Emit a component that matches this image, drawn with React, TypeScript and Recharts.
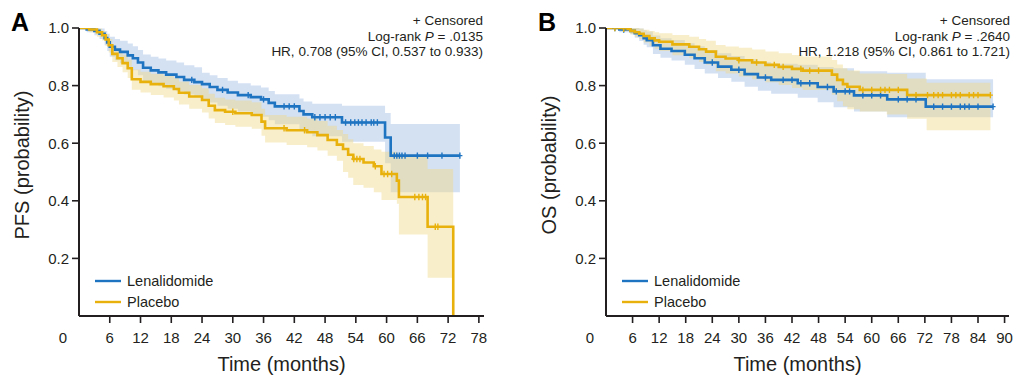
import React from 'react';
import { ComposedChart, Line, Area, Scatter, XAxis, YAxis, Legend, Label } from 'recharts';

const FONT = '"Liberation Sans", Arial, Helvetica, sans-serif';
const INK = '#231f20';
const BLUE = '#1f74c2';
const GOLD = '#e8b10c';
const BLUE_BAND = '#a9c3e8';
const GOLD_BAND = '#f0d98a';

// ---------- Panel A: PFS ----------
const pfsLenT = [0, 1.5, 3, 4, 5, 5.5, 6, 7, 8, 9.5, 10.5, 11.5, 12.5, 14, 15.5, 17, 19, 20.5, 22.5, 24, 25.5, 27, 29, 31, 33.5, 35.5, 37, 38.2, 43, 43.8, 45.5, 51.3, 59.7, 60.8, 74.3];
const pfsLenS = [1, 0.995, 0.99, 0.98, 0.965, 0.95, 0.935, 0.925, 0.917, 0.905, 0.895, 0.88, 0.862, 0.853, 0.846, 0.838, 0.83, 0.82, 0.812, 0.805, 0.795, 0.785, 0.776, 0.767, 0.76, 0.752, 0.74, 0.728, 0.712, 0.7, 0.69, 0.672, 0.62, 0.557, 0.557];
const pfsLenHi = [1, 1, 1, 0.998, 0.99, 0.98, 0.97, 0.962, 0.956, 0.946, 0.937, 0.924, 0.908, 0.9, 0.894, 0.887, 0.88, 0.871, 0.864, 0.845, 0.836, 0.826, 0.817, 0.808, 0.8, 0.793, 0.781, 0.77, 0.755, 0.745, 0.737, 0.73, 0.705, 0.667, 0.667];
const pfsLenLo = [1, 0.985, 0.975, 0.962, 0.94, 0.92, 0.9, 0.888, 0.878, 0.864, 0.853, 0.836, 0.816, 0.806, 0.798, 0.789, 0.78, 0.769, 0.76, 0.752, 0.741, 0.73, 0.72, 0.71, 0.702, 0.692, 0.68, 0.666, 0.648, 0.635, 0.624, 0.605, 0.53, 0.43, 0.43];
const pfsLenCensor = [22, 28, 33, 36, 40, 41, 42, 46, 47, 48, 49, 50, 52, 53, 53.8, 54.5, 55.2, 56, 57, 57.5, 58.2, 61.5, 62, 62.5, 63, 63.6, 66, 68, 70.8, 74.3];

const pfsPlaT = [0, 2, 3.5, 4.5, 5.2, 5.8, 6.5, 7.5, 8.5, 9.5, 10.3, 12, 14, 16.5, 18.5, 19.5, 21.5, 24, 25.3, 26.5, 28.5, 30.5, 33.7, 35.6, 36.3, 40.5, 44.5, 46.5, 48.5, 50.3, 51.5, 52.5, 53.5, 55.5, 57.5, 59, 62, 62.4, 68, 73];
const pfsPlaS = [1, 0.995, 0.985, 0.975, 0.96, 0.94, 0.91, 0.895, 0.878, 0.86, 0.822, 0.813, 0.805, 0.798, 0.788, 0.775, 0.762, 0.75, 0.73, 0.715, 0.709, 0.704, 0.698, 0.675, 0.652, 0.645, 0.638, 0.628, 0.611, 0.595, 0.58, 0.56, 0.545, 0.533, 0.52, 0.493, 0.47, 0.413, 0.31, 0];
const pfsPlaHi = [1, 1, 0.998, 0.99, 0.978, 0.962, 0.935, 0.922, 0.907, 0.891, 0.856, 0.848, 0.841, 0.835, 0.826, 0.814, 0.802, 0.791, 0.772, 0.758, 0.752, 0.748, 0.742, 0.72, 0.698, 0.692, 0.686, 0.677, 0.661, 0.646, 0.632, 0.614, 0.6, 0.59, 0.578, 0.57, 0.56, 0.56, 0.51, 0.51];
const pfsPlaLo = [1, 0.985, 0.97, 0.957, 0.938, 0.915, 0.882, 0.865, 0.846, 0.826, 0.786, 0.776, 0.767, 0.759, 0.748, 0.734, 0.72, 0.707, 0.686, 0.67, 0.663, 0.657, 0.65, 0.626, 0.602, 0.594, 0.586, 0.575, 0.556, 0.539, 0.5, 0.48, 0.455, 0.445, 0.43, 0.403, 0.39, 0.283, 0.133, 0.133];
const pfsPlaCensor = [30, 40, 44, 53.6, 54.2, 54.8, 57.8, 59.5, 60.2, 61, 65.5, 66.3, 67, 67.6, 69.5, 70];

// ---------- Panel B: OS ----------
const osLenT = [0, 3, 5.5, 6.5, 7.5, 8.5, 9.2, 10.6, 12.3, 14.8, 17.8, 20, 22.3, 25.3, 28.3, 31.3, 34.3, 37.3, 43.3, 47.8, 51.4, 56, 63.5, 72.2, 87.4];
const osLenS = [1, 0.995, 0.99, 0.982, 0.975, 0.965, 0.958, 0.94, 0.928, 0.92, 0.907, 0.895, 0.88, 0.866, 0.855, 0.84, 0.828, 0.82, 0.808, 0.795, 0.78, 0.766, 0.752, 0.727, 0.727];
const osLenHi = [1, 1, 1, 1, 0.998, 0.992, 0.988, 0.974, 0.964, 0.958, 0.947, 0.937, 0.924, 0.912, 0.903, 0.892, 0.882, 0.876, 0.872, 0.865, 0.86, 0.85, 0.845, 0.822, 0.822];
const osLenLo = [1, 0.985, 0.978, 0.966, 0.955, 0.942, 0.933, 0.91, 0.897, 0.887, 0.872, 0.858, 0.842, 0.826, 0.813, 0.796, 0.782, 0.772, 0.758, 0.742, 0.725, 0.71, 0.69, 0.69, 0.69];
const osLenCensor = [2, 4, 24, 30, 36, 40, 42, 44, 46, 50, 52, 54, 55, 58, 60, 62, 66, 68, 70, 74, 76, 78, 80, 81, 82, 84, 87.4];

const osPlaT = [0, 4, 5.5, 6.5, 7.5, 8.5, 9.8, 11, 12, 15, 18.8, 21, 22.6, 24.8, 27, 30, 33, 36, 39, 42, 44.4, 51, 52.2, 53.5, 54.5, 57.3, 63.4, 68, 72.4, 86.8];
const osPlaS = [1, 0.997, 0.99, 0.985, 0.98, 0.972, 0.964, 0.957, 0.952, 0.943, 0.935, 0.926, 0.918, 0.9, 0.894, 0.888, 0.88, 0.872, 0.865, 0.858, 0.852, 0.838, 0.82, 0.805, 0.796, 0.785, 0.785, 0.767, 0.767, 0.767];
const osPlaHi = [1, 1, 1, 1, 0.998, 0.994, 0.99, 0.985, 0.982, 0.976, 0.97, 0.962, 0.956, 0.941, 0.936, 0.931, 0.925, 0.918, 0.912, 0.906, 0.901, 0.889, 0.873, 0.86, 0.852, 0.842, 0.84, 0.825, 0.81, 0.81];
const osPlaLo = [1, 0.99, 0.978, 0.97, 0.962, 0.95, 0.938, 0.928, 0.92, 0.905, 0.895, 0.882, 0.872, 0.85, 0.842, 0.832, 0.822, 0.812, 0.802, 0.792, 0.785, 0.768, 0.746, 0.728, 0.718, 0.71, 0.7, 0.685, 0.645, 0.645];
const osPlaCensor = [2, 4, 30, 34, 38, 40, 44, 46, 48, 58, 60, 62, 63, 64, 66, 70, 72.6, 74, 75, 76, 78, 79, 80, 82, 83, 84, 86.8];

// ---------- ticks & labels ----------
const pfsXTicks = [0, 6, 12, 18, 24, 30, 36, 42, 48, 54, 60, 66, 72, 78];
const osXTicks = [0, 6, 12, 18, 24, 30, 36, 42, 48, 54, 60, 66, 72, 78, 84, 90];
const yTicks = [0.2, 0.4, 0.6, 0.8, 1.0];
const seriesNames = ['Lenalidomide', 'Placebo'];
const pfsNotes = ['+ Censored', '.0135', 'HR, 0.708 (95% CI, 0.537 to 0.933)'];
const osNotes = ['+ Censored', '.2640', 'HR, 1.218 (95% CI, 0.861 to 1.721)'];

type Pt = { t: number; s: number; band: [number, number] };

function curve(ts: number[], ss: number[], lo: number[], hi: number[]): Pt[] {
  return ts.map((t, i) => ({ t, s: ss[i], band: [lo[i], hi[i]] as [number, number] }));
}

function censorPts(times: number[], ts: number[], ss: number[]) {
  return times.map((c) => {
    let k = 0;
    for (let i = 0; i < ts.length; i++) if (ts[i] <= c) k = i;
    return { t: c, s: ss[k] };
  });
}

const makeCross = (color: string) => (p: any) => {
  const { cx, cy } = p;
  if (cx == null || cy == null) return <g />;
  return (
    <path d={`M${cx - 2.5},${cy}h5M${cx},${cy - 3.2}v6.4`} stroke={color} strokeWidth={1.4} fill="none" />
  );
};

const XTick = (props: any) => {
  const { x, y, payload } = props;
  const v = payload.value;
  return (
    <g>
      {v !== 0 && <line x1={x} x2={x} y1={y - 16} y2={y - 9} stroke={INK} strokeWidth={1.6} />}
      <text x={v === 0 ? x - 16 : x} y={y} dy="0.71em" textAnchor="middle" fontSize={15} fill={INK} fontFamily={FONT}>
        {v}
      </text>
    </g>
  );
};

const LegendContent = (props: any) => {
  const payload = (props.payload || []).filter((e: any) => seriesNames.includes(e.value));
  return (
    <div style={{ fontFamily: FONT, fontSize: 14.5, color: INK }}>
      {payload.map((e: any) => (
        <div key={e.value} style={{ display: 'flex', alignItems: 'center', height: 21 }}>
          <svg width={26} height={4} style={{ marginRight: 6 }}>
            <line x1={0} x2={26} y1={2} y2={2} stroke={e.color} strokeWidth={2.4} />
          </svg>
          <span>{e.value}</span>
        </div>
      ))}
    </div>
  );
};

type PanelProps = {
  width: number;
  marginLeft: number;
  marginRight: number;
  xMax: number;
  xTicks: number[];
  letter: string;
  yLabel: string;
  notes: string[];
  notesRight: number;
  xLabelShift: number;
  len: Pt[];
  pla: Pt[];
  lenC: { t: number; s: number }[];
  plaC: { t: number; s: number }[];
};

function Panel(p: PanelProps) {
  const H = 377;
  return (
    <div style={{ position: 'relative', width: p.width, height: H }}>
      <ComposedChart
        width={p.width}
        height={H}
        margin={{ top: 28, right: p.marginRight, bottom: 0, left: p.marginLeft }}
      >
        <XAxis
          type="number"
          dataKey="t"
          domain={[0, p.xMax]}
          ticks={p.xTicks}
          allowDataOverflow
          height={61}
          axisLine={{ stroke: INK, strokeWidth: 2 }}
          tickLine={false}
          tickSize={6}
          tickMargin={10}
          tick={<XTick />}
          interval={0}
        >
          <Label
            content={(lp: any) => {
              const vb = lp.viewBox || { x: p.marginLeft + 79, y: 316, width: 405, height: 61 };
              return (
                <text
                  x={vb.x + vb.width / 2 + p.xLabelShift}
                  y={vb.y + 55}
                  textAnchor="middle"
                  fontSize={20}
                  fill={INK}
                  fontFamily={FONT}
                >
                  Time (months)
                </text>
              );
            }}
          />
        </XAxis>
        <YAxis
          type="number"
          domain={[0, 1]}
          ticks={yTicks}
          width={79}
          allowDataOverflow
          axisLine={{ stroke: INK, strokeWidth: 2 }}
          tickLine={{ stroke: INK, strokeWidth: 1.6 }}
          tickSize={7}
          tickMargin={3}
          tickFormatter={(v: number) => v.toFixed(1)}
          tick={{ fontSize: 15, fill: INK, fontFamily: FONT }}
        >
          <Label
            content={(lp: any) => {
              const vb = lp.viewBox || { x: p.marginLeft, y: 28, width: 79, height: 288 };
              const cx = vb.x + 22;
              const cy = vb.y + vb.height / 2 - 7;
              return (
                <text
                  x={cx}
                  y={cy}
                  transform={`rotate(-90 ${cx} ${cy})`}
                  textAnchor="middle"
                  dominantBaseline="central"
                  fontSize={20}
                  fill={INK}
                  fontFamily={FONT}
                >
                  {p.yLabel}
                </text>
              );
            }}
          />
        </YAxis>
        <Area
          data={p.len}
          dataKey="band"
          type="stepAfter"
          stroke="none"
          fill={BLUE_BAND}
          fillOpacity={0.5}
          isAnimationActive={false}
          legendType="none"
          activeDot={false}
        />
        <Area
          data={p.pla}
          dataKey="band"
          type="stepAfter"
          stroke="none"
          fill={GOLD_BAND}
          fillOpacity={0.45}
          isAnimationActive={false}
          legendType="none"
          activeDot={false}
        />
        <Line
          data={p.len}
          dataKey="s"
          name={seriesNames[0]}
          type="stepAfter"
          stroke={BLUE}
          strokeWidth={2.6}
          dot={false}
          activeDot={false}
          isAnimationActive={false}
        />
        <Line
          data={p.pla}
          dataKey="s"
          name={seriesNames[1]}
          type="stepAfter"
          stroke={GOLD}
          strokeWidth={2.6}
          dot={false}
          activeDot={false}
          isAnimationActive={false}
        />
        <Scatter data={p.lenC} dataKey="s" shape={makeCross(BLUE)} isAnimationActive={false} legendType="none" />
        <Scatter data={p.plaC} dataKey="s" shape={makeCross(GOLD)} isAnimationActive={false} legendType="none" />
        <Legend
          layout="vertical"
          align="center"
          verticalAlign="middle"
          content={<LegendContent />}
          wrapperStyle={{ position: 'absolute', left: p.marginLeft + 95, top: 270, width: 160, height: 42 }}
        />
      </ComposedChart>
      <div
        style={{
          position: 'absolute',
          left: p.marginLeft + 11,
          top: 7,
          fontFamily: FONT,
          fontWeight: 'bold',
          fontSize: 25,
          color: '#000',
          lineHeight: '30px',
        }}
      >
        {p.letter}
      </div>
      <div
        style={{
          position: 'absolute',
          right: p.notesRight,
          top: 13,
          textAlign: 'right',
          fontFamily: FONT,
          fontSize: 13.5,
          lineHeight: '15.5px',
          color: INK,
          whiteSpace: 'nowrap',
        }}
      >
        <div>{p.notes[0]}</div>
        <div>
          Log-rank <i>P</i> = {p.notes[1]}
        </div>
        <div>{p.notes[2]}</div>
      </div>
    </div>
  );
}

export default function App() {
  const pfsLen = curve(pfsLenT, pfsLenS, pfsLenLo, pfsLenHi);
  const pfsPla = curve(pfsPlaT, pfsPlaS, pfsPlaLo, pfsPlaHi);
  const osLen = curve(osLenT, osLenS, osLenLo, osLenHi);
  const osPla = curve(osPlaT, osPlaS, osPlaLo, osPlaHi);
  return (
    <div
      style={{
        position: 'absolute',
        left: 0,
        top: 0,
        width: 1013,
        height: 377,
        background: '#fff',
        display: 'flex',
      }}
    >
      <Panel
        width={500}
        marginLeft={0}
        marginRight={16}
        xMax={79}
        xTicks={pfsXTicks}
        letter="A"
        yLabel="PFS (probability)"
        notes={pfsNotes}
        notesRight={17}
        xLabelShift={0}
        len={pfsLen}
        pla={pfsPla}
        lenC={censorPts(pfsLenCensor, pfsLenT, pfsLenS)}
        plaC={censorPts(pfsPlaCensor, pfsPlaT, pfsPlaS)}
      />
      <Panel
        width={513}
        marginLeft={27}
        marginRight={4}
        xMax={91}
        xTicks={osXTicks}
        letter="B"
        yLabel="OS (probability)"
        notes={osNotes}
        notesRight={3}
        xLabelShift={-10}
        len={osLen}
        pla={osPla}
        lenC={censorPts(osLenCensor, osLenT, osLenS)}
        plaC={censorPts(osPlaCensor, osPlaT, osPlaS)}
      />
    </div>
  );
}
